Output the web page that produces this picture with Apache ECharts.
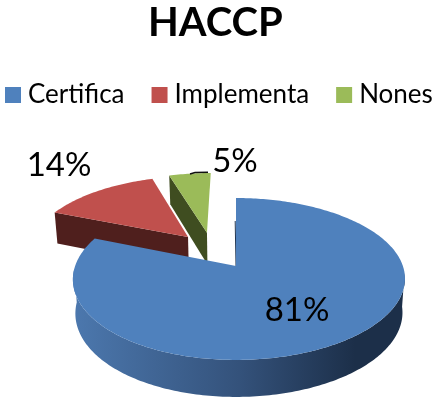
<!DOCTYPE html>
<html>
<head>
<meta charset="utf-8">
<style>html,body{margin:0;padding:0;background:#fff}#c{width:443px;height:404px}</style>
<script src="https://cdn.jsdelivr.net/npm/echarts@6/dist/echarts.min.js"></script>
</head>
<body>
<div id="c"></div>
<script>
const titleText = 'HACCP';
const categories = ['Certifica', 'Implementa', 'Nones'];
const shares = [81, 14, 5];

const topColors = ['#4F81BD', '#C0504D', '#9BBB59'];
const wallColors = [null, '#4F1F1D', '#3F4D20'];
// slice explosion, in units of the pie radius (x, away from viewer)
const offsets = [[0, 0], [-0.311, 0.3906], [-0.19, 0.4527]];
const labelPos = [[297, 310], [59, 165], [235, 161]];
const seriesZ = [5, 3, 2];

// perspective projection of the pie plane
const X0 = 236, Y0 = 266, RX = 163.9, RY = 78.9, K = 0.16;
function project(u, v, off) {
  const pu = u + off[0], pv = v + off[1];
  const w = 1 + K * pv;
  return [X0 + RX * pu / w + 3 * u * u * (off[0] === 0 ? 1 : 0), Y0 - RY * pv / w];
}
function lower(p, v) {
  const d = 33.5 - 3.5 * v;
  return [239 + (p[0] - 239) * 0.985, p[1] + d];
}
function pt(theta, off) {
  return project(Math.sin(theta), Math.cos(theta), off);
}
const total = shares.reduce((a, b) => a + b, 0);
const rad = d => d * Math.PI / 180;

function renderSlice(params, api) {
  const i = params.seriesIndex;
  const value = api.value(0);
  const off = offsets[i];
  let before = 0;
  for (let k = 0; k < i; k++) before += shares[k];
  const a0 = before / total * 360, a1 = (before + value) / total * 360;
  const children = [];
  const apex = project(0, 0, off);

  if (i === 0) {
    // curved front wall
    const topArc = [], botArc = [];
    for (let d = 95; d <= 268; d += 1) {
      const p = pt(rad(d), off);
      topArc.push(p);
      botArc.unshift(lower(p, Math.cos(rad(d))));
    }
    children.push({
      type: 'polygon',
      shape: { points: topArc.concat(botArc) },
      style: {
        fill: new echarts.graphic.LinearGradient(0, 0, 1, 0, [
          { offset: 0, color: '#4C78AE' },
          { offset: 0.5, color: '#34527B' },
          { offset: 0.85, color: '#1C2F49' },
          { offset: 1, color: '#1C2F49' }
        ])
      }
    });
    // thin visible part of the inner wall along the first edge
    children.push({
      type: 'line',
      shape: { x1: apex[0], y1: apex[1], x2: apex[0] - 0.8, y2: apex[1] - 45 },
      style: { stroke: '#1F3552', lineWidth: 1 }
    });
  } else {
    // radial wall facing the viewer
    const outer = pt(rad(a0), off);
    const vOuter = Math.cos(rad(a0)) + off[1];
    children.push({
      type: 'polygon',
      shape: { points: [outer, apex, lower(apex, off[1]), lower(outer, vOuter)] },
      style: { fill: wallColors[i] }
    });
  }

  const top = [apex];
  for (let d = a0; d <= a1 + 0.001; d += 1) top.push(pt(rad(d), off));
  top.push(pt(rad(a1), off));
  children.push({ type: 'polygon', shape: { points: top }, style: { fill: topColors[i] } });

  if (i === 2) {
    children.push({
      type: 'polyline',
      shape: { points: [[190, 174], [195, 172.5], [208, 172.3]] },
      style: { stroke: '#111', lineWidth: 1.5, fill: 'none' }
    });
  }
  children.push({
    type: 'text',
    x: labelPos[i][0], y: labelPos[i][1],
    style: {
      text: value + '%', fill: '#000',
      font: '33px Lato', align: 'center', verticalAlign: 'middle'
    }
  });
  return { type: 'group', children };
}

const chart = echarts.init(document.getElementById('c'), null, { renderer: 'canvas' });
chart.setOption({
  animation: false,
  backgroundColor: '#fff',
  title: {
    text: titleText, left: 143, top: -2,
    textStyle: { fontFamily: 'Lato', fontWeight: 'bold', fontSize: 40, color: '#000' }
  },
  legend: {
    left: 5, top: 82,
    padding: 0,
    itemWidth: 16, itemHeight: 16, itemGap: 27,
    icon: 'rect',
    textStyle: { fontFamily: 'Lato', fontSize: 26, color: '#000', padding: [0, 0, 0, 2] },
    data: categories
  },
  series: categories.map((name, i) => ({
    type: 'custom',
    name,
    coordinateSystem: 'none',
    z: seriesZ[i],
    silent: true,
    itemStyle: { color: topColors[i] },
    renderItem: renderSlice,
    data: [[shares[i]]]
  }))
});
</script>
</body>
</html>
